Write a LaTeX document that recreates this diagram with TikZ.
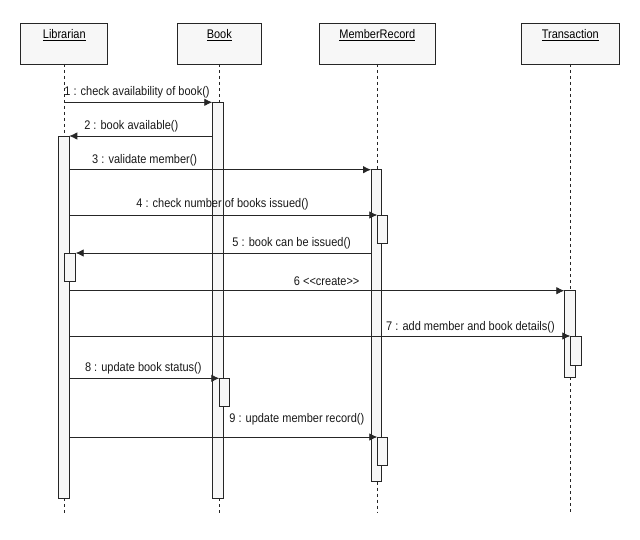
\documentclass[tikz,border=0pt]{standalone}
\usepackage{fontspec}
\setmainfont{Liberation Sans}
\newfontfamily\diafont[FakeStretch=0.88]{Liberation Sans}
\usetikzlibrary{arrows.meta}
\begin{document}
\begin{tikzpicture}[x=1pt,y=-1pt,
  every node/.style={inner sep=0pt, outer sep=0pt},
  headbox/.style={draw=black!85, fill=black!3, line width=0.8pt, minimum height=40.7pt, anchor=north},
  headtxt/.style={font=\diafont\fontsize{12.5}{14}\selectfont},
  act/.style={draw=black!85, fill=black!3, line width=0.8pt, anchor=north west},
  life/.style={draw=black!85, line width=0.8pt, dash pattern=on 3pt off 3pt},
  msg/.style={draw=black!85, line width=0.8pt, -{Latex[length=8pt,width=7.5pt]}},
  lbl/.style={font=\diafont\fontsize{12.5}{14}\selectfont, text=black!90}
]
\useasboundingbox (0,0) rectangle (640,540);
\fill[white] (0,0) rectangle (640,540);

% header boxes
\node[headbox, minimum width=87pt]   (libH) at (64.3,23.3) {};
\node[headbox, minimum width=84.7pt] (bookH) at (219.3,23.3) {};
\node[headbox, minimum width=116pt]  (mrH) at (377.3,23.3) {};
\node[headbox, minimum width=97.4pt] (trH) at (570.3,23.3) {};
\node[headtxt] (libT) at (64.3,35.5) {\underline{Librarian}};
\node[headtxt] (bookT) at (219.3,35.5) {\underline{Book}};
\node[headtxt] (mrT) at (377.3,35.5) {\underline{MemberRecord}};
\node[headtxt] (trT) at (570.3,35.5) {\underline{Transaction}};

% lifeline ends
\coordinate (libEnd) at (64.3,513);
\coordinate (bookEnd) at (219.3,513);
\coordinate (mrEnd) at (377.3,513);
\coordinate (trEnd) at (570.3,513);

% main activations
\node[act, minimum width=10.6pt, minimum height=362.3pt] (libA) at (58.7,136) {};
\node[act, minimum width=10.7pt, minimum height=396pt] (bookA) at (212.3,102.3) {};
\node[act, minimum width=10.7pt, minimum height=312pt] (mrA) at (371,169.7) {};
\node[act, minimum width=11.2pt, minimum height=86.6pt] (trA) at (564.3,290.7) {};

% lifelines
\draw[life] (libH.south) -- (libA.north -| libH.south);
\draw[life] (libA.south -| libH.south) -- (libEnd);
\draw[life] (bookH.south) -- (bookA.north -| bookH.south);
\draw[life] (bookA.south -| bookH.south) -- (bookEnd);
\draw[life] (mrH.south) -- (mrA.north -| mrH.south);
\draw[life] (mrA.south -| mrH.south) -- (mrEnd);
\draw[life] (trH.south) -- (trA.north -| trH.south);
\draw[life] (trA.south -| trH.south) -- (trEnd);

% nested activations
\node[act, minimum width=11.4pt, minimum height=28pt] (libB) at (64.3,253) {};
\node[act, minimum width=10.4pt, minimum height=28.4pt] (bookB) at (219.3,378.3) {};
\node[act, minimum width=10.4pt, minimum height=28.3pt] (mrB) at (377.3,215) {};
\node[act, minimum width=10.4pt, minimum height=28.3pt] (mrC) at (377.3,437) {};
\node[act, minimum width=11.4pt, minimum height=29pt] (trB) at (570.3,336) {};

% messages
\draw[msg] (libH.south |- bookA.north west) -- (bookA.north west);
\draw[msg] (bookA.west |- libA.north east) -- (libA.north east);
\draw[msg] (libA.east |- mrA.north west) -- (mrA.north west);
\draw[msg] (libA.east |- mrB.north west) -- (mrB.north west);
\draw[msg] (mrA.west |- libB.north east) -- (libB.north east);
\draw[msg] (libA.east |- trA.north west) -- (trA.north west);
\draw[msg] (libA.east |- trB.north west) -- (trB.north west);
\draw[msg] (libA.east |- bookB.north west) -- (bookB.north west);
\draw[msg] (libA.east |- mrC.north west) -- (mrC.north west);

% labels
\node[lbl] (l1) at (137,92.2) {1 : check availability of book()};
\node[lbl] (l2) at (131.3,126.2) {2 : book available()};
\node[lbl] (l3) at (144.7,160.2) {3 : validate member()};
\node[lbl] (l4) at (222.5,204.5) {4 : check number of books issued()};
\node[lbl] (l5) at (291.7,242.8) {5 : book can be issued()};
\node[lbl] (l6) at (326.7,281.2) {6 <{}<create>{}>};
\node[lbl] (l7) at (470.5,327.2) {7 : add member and book details()};
\node[lbl] (l8) at (143.3,367.8) {8 : update book status()};
\node[lbl] (l9) at (296.8,419.5) {9 : update member record()};
\end{tikzpicture}
\end{document}
